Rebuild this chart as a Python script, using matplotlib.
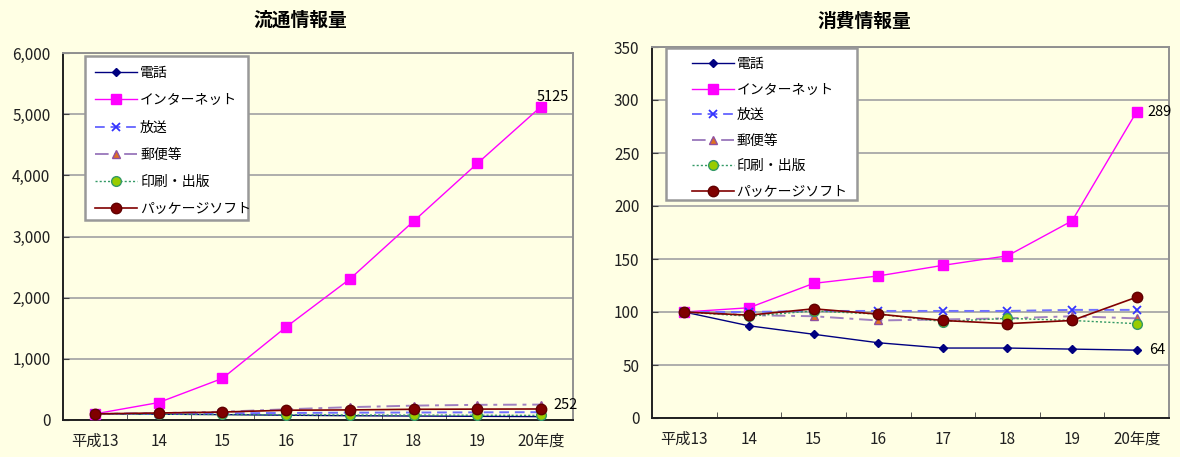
import matplotlib
matplotlib.use("Agg")
import matplotlib.pyplot as plt
from matplotlib.patches import Rectangle
from matplotlib.ticker import FuncFormatter, FixedLocator

plt.rcParams['font.family'] = ['Noto Sans CJK JP', 'DejaVu Sans']

# Fiscal years (Heisei)
years = ["平成13", "14", "15", "16", "17", "18", "19", "20年度"]
series_names = ["電話", "インターネット", "放送", "郵便等", "印刷・出版", "パッケージソフト"]

# 流通情報量 (index, 平成13 = 100)
dist_phone    = [100, 95, 88, 78, 70, 65, 60, 55]
dist_internet = [100, 285, 680, 1520, 2305, 3250, 4195, 5125]
dist_broadcast = [100, 105, 110, 115, 120, 122, 125, 128]
dist_postal   = [100, 112, 135, 175, 210, 235, 248, 252]
dist_print    = [100, 95, 90, 85, 82, 80, 78, 75]
dist_package  = [100, 115, 130, 160, 165, 175, 178, 180]

# 消費情報量 (index, 平成13 = 100)
cons_phone    = [100, 87, 79, 71, 66, 66, 65, 64]
cons_internet = [100, 104, 127, 134, 144, 153, 186, 289]
cons_broadcast = [100, 100, 101, 101, 101, 101, 102, 102]
cons_postal   = [100, 97, 96, 92, 93, 94, 96, 94]
cons_print    = [100, 96, 101, 98, 91, 94, 92, 89]
cons_package  = [100, 97, 103, 98, 92, 89, 92, 114]

bg = '#FFFFE4'
W, H = 1180, 457

styles = [
    dict(color='#000080', ls='-', marker='D', ms=4.5, mfc='#000080', mec='#000080', lw=1.0),
    dict(color='#FF00FF', ls='-', marker='s', ms=7, mfc='#FF00FF', mec='#FF00FF', lw=1.0),
    dict(color='#6F6FFF', ls=(0, (5, 3)), marker='x', ms=6, mfc='none', mec='#3333FF', mew=1.3, lw=1.4),
    dict(color='#A080C0', ls=(0, (7, 3, 2, 3)), marker='^', ms=6, mfc='#E07020', mec='#9050A0', lw=1.4),
    dict(color='#339966', ls=(0, (1.5, 1.5)), marker='o', ms=7, mfc='#99CC00', mec='#339966', lw=1.0),
    dict(color='#800000', ls='-', marker='o', ms=7.5, mfc='#800000', mec='#600000', lw=1.2),
]

fig = plt.figure(figsize=(W / 100, H / 100), dpi=100, facecolor=bg)


def px_rect(x0, y0, x1, y1):
    """Pixel box (top-left origin) to figure fraction [left, bottom, width, height]."""
    return [x0 / W, 1 - y1 / H, (x1 - x0) / W, (y1 - y0) / H]


ax1 = fig.add_axes(px_rect(63, 53, 573, 420))
ax2 = fig.add_axes(px_rect(652, 47, 1169, 418))

x = list(range(len(years)))


def setup(ax, data, ymax, ystep, fmt_thousands, leg_box, leg_anchor, spacing, textpad):
    ax.set_facecolor(bg)
    for vals, name, st in zip(data, series_names, styles):
        ax.plot(x, vals, label=name, zorder=3, **st)
    ax.set_xlim(-0.5, len(years) - 0.5)
    ax.set_ylim(0, ymax)
    ax.set_yticks(range(0, ymax + 1, ystep))
    if fmt_thousands:
        ax.yaxis.set_major_formatter(FuncFormatter(lambda v, p: f"{int(v):,}"))
    ax.yaxis.grid(True, color='#A8A8A8', lw=1.3)
    ax.set_axisbelow(True)
    ax.set_xticks(x)
    ax.set_xticklabels(years)
    ax.xaxis.set_minor_locator(FixedLocator([i + 0.5 for i in range(len(years) - 1)]))
    ax.tick_params(axis='x', which='major', length=0, pad=9, labelsize=11, colors='#202020')
    ax.tick_params(axis='x', which='minor', direction='in', length=4, color='#404040')
    ax.tick_params(axis='y', which='major', direction='in', length=4, labelsize=11, pad=9,
                   color='#404040', labelcolor='#202020')
    for s in ['left', 'bottom']:
        ax.spines[s].set_color('#202020')
        ax.spines[s].set_linewidth(1.4)
    for s in ['top', 'right']:
        ax.spines[s].set_color('#909090')
        ax.spines[s].set_linewidth(1.4)

    # legend box
    fig.patches.append(Rectangle(px_rect(*leg_box)[:2], *px_rect(*leg_box)[2:],
                                 transform=fig.transFigure, facecolor='white',
                                 edgecolor='#999999', lw=1.8, zorder=4))
    lx, ly = leg_anchor
    leg = fig.legend(*ax.get_legend_handles_labels(), loc='upper left',
                     bbox_to_anchor=(lx / W, 1 - ly / H), frameon=False,
                     fontsize=10, handlelength=3.0, labelspacing=spacing, borderpad=0,
                     handletextpad=textpad, borderaxespad=0)
    leg.set_zorder(5)


setup(ax1, [dist_phone, dist_internet, dist_broadcast, dist_postal, dist_print, dist_package],
      6000, 1000, True, (85, 56, 248, 220), (95, 66), 0.95, 0.25)
setup(ax2, [cons_phone, cons_internet, cons_broadcast, cons_postal, cons_print, cons_package],
      350, 50, False, (666, 48, 857, 200), (692, 57), 0.83, 0.2)

fig.text(300 / W, 1 - 20 / H, "流通情報量", fontsize=13.5, fontweight='bold', ha='center', va='center')
fig.text(864 / W, 1 - 21 / H, "消費情報量", fontsize=13.5, fontweight='bold', ha='center', va='center')

# value labels at the last year
ax1.annotate(f"{dist_internet[-1]}", (x[-1], dist_internet[-1]), xytext=(-3, 2),
             textcoords='offset points', fontsize=10.5, ha='left', va='bottom')
ax1.annotate(f"{dist_postal[-1]}", (x[-1], dist_postal[-1]), xytext=(9, 0),
             textcoords='offset points', fontsize=10.5, ha='left', va='center')
ax2.annotate(f"{cons_internet[-1]}", (x[-1], cons_internet[-1]), xytext=(8, 0),
             textcoords='offset points', fontsize=10.5, ha='left', va='center')
ax2.annotate(f"{cons_phone[-1]}", (x[-1], cons_phone[-1]), xytext=(9, 0),
             textcoords='offset points', fontsize=10.5, ha='left', va='center')

fig.savefig("out.png", dpi=100, facecolor=bg)
